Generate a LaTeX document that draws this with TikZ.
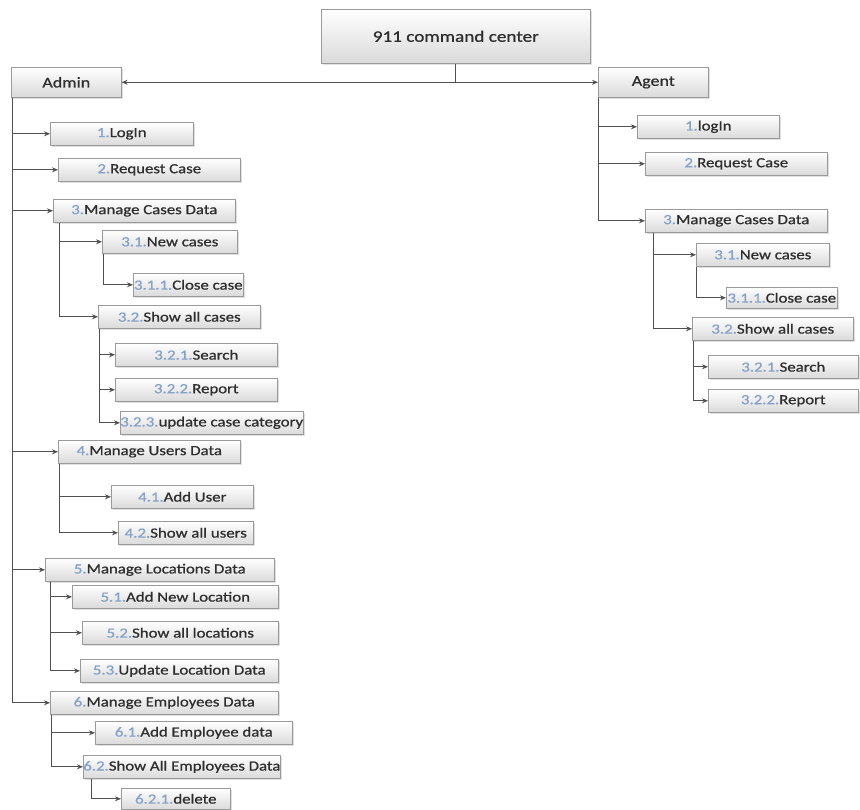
\documentclass[tikz,border=0pt]{standalone}
\usepackage{fontspec}
\setmainfont{Carlito}[FakeStretch=1.2, FakeBold=0.8]
\usepackage{tikz}
\usetikzlibrary{arrows.meta,shadows}
\definecolor{BoxLine}{HTML}{9A9A9A}
\definecolor{BoxShade}{HTML}{DADADA}
\definecolor{InkDark}{HTML}{2E2E2E}
\definecolor{NumBlue}{HTML}{86A2C8}
\definecolor{LinkGray}{HTML}{505050}
\newcommand{\idx}[1]{\textcolor{NumBlue}{#1}}

\begin{document}
\begin{tikzpicture}[x=1pt, y=-1pt,
  every node/.style={font=\fontsize{14}{16}\selectfont, text=InkDark},
  item/.style={draw=BoxLine, line width=0.6pt, top color=white, bottom color=BoxShade,
    drop shadow={opacity=0.25, shadow xshift=1.5pt, shadow yshift=-1.5pt},
    anchor=north west, minimum height=23pt, inner sep=0pt},
  link/.style={draw=LinkGray, line width=1pt, -{Stealth[length=6pt,width=5pt]}}]
  \useasboundingbox (0,0) rectangle (860,810);
  % Root and the two roles
  \node[item, minimum width=269pt, minimum height=54pt, font=\fontsize{16}{18}\selectfont]
    (title) at (321,9) {911 command center};
  \node[item, minimum width=110pt, minimum height=30pt, font=\fontsize{15}{17}\selectfont]
    (admin) at (11,67) {Admin};
  \node[item, minimum width=110pt, minimum height=30pt, font=\fontsize{15}{17}\selectfont]
    (agent) at (598,67) {Agent};
  \draw[link] (title.south) |- (admin.east);
  \draw[link] (title.south) |- (agent.west);

  % Admin menu
  \node[item, minimum width=143pt] (a1) at (50,122) {\idx{1.}LogIn};
  \node[item, minimum width=182pt] (a2) at (58,158) {\idx{2.}Request Case};
  \node[item, minimum width=182pt] (a3) at (53,199) {\idx{3.}Manage Cases Data};
  \node[item, minimum width=135pt] (a31) at (102,230) {\idx{3.1.}New cases};
  \node[item, minimum width=110pt] (a311) at (133,273) {\idx{3.1.1.}Close case};
  \node[item, minimum width=162pt] (a32) at (98,305) {\idx{3.2.}Show all cases};
  \node[item, minimum width=162pt] (a321) at (115,343) {\idx{3.2.1.}Search};
  \node[item, minimum width=162pt] (a322) at (115,378) {\idx{3.2.2.}Report};
  \node[item, minimum width=182pt] (a323) at (120,411) {\idx{3.2.3.}update case category};
  \node[item, minimum width=182pt] (a4) at (58,440) {\idx{4.}Manage Users Data};
  \node[item, minimum width=142pt] (a41) at (111,485) {\idx{4.1.}Add User};
  \node[item, minimum width=135pt] (a42) at (118,521) {\idx{4.2.}Show all users};
  \node[item, minimum width=229pt] (a5) at (45,558) {\idx{5.}Manage Locations Data};
  \node[item, minimum width=206pt] (a51) at (72,585) {\idx{5.1.}Add New Location};
  \node[item, minimum width=196pt] (a52) at (82,621) {\idx{5.2.}Show all locations};
  \node[item, minimum width=198pt] (a53) at (80,659) {\idx{5.3.}Update Location Data};
  \node[item, minimum width=228pt] (a6) at (50,691) {\idx{6.}Manage Employees Data};
  \node[item, minimum width=197pt] (a61) at (95,721) {\idx{6.1.}Add Employee data};
  \node[item, minimum width=197pt] (a62) at (83,755) {\idx{6.2.}Show All Employees Data};
  \node[item, minimum width=109pt, minimum height=21pt] (a621) at (121,788) {\idx{6.2.1.}delete};

  \foreach \n in {a1,a2,a3,a4,a5,a6}
    \draw[link] ([xshift=1pt]admin.south west) |- (\n.west);
  \foreach \n in {a31,a32}
    \draw[link] ([xshift=6pt]a3.south west) |- (\n.west);
  \draw[link] ([xshift=1pt]a31.south west) |- (a311.west);
  \foreach \n in {a321,a322,a323}
    \draw[link] ([xshift=1pt]a32.south west) |- (\n.west);
  \foreach \n in {a41,a42}
    \draw[link] ([xshift=1pt]a4.south west) |- (\n.west);
  \foreach \n in {a51,a52,a53}
    \draw[link] ([xshift=5pt]a5.south west) |- (\n.west);
  \foreach \n in {a61,a62}
    \draw[link] ([xshift=1pt]a6.south west) |- (\n.west);
  \draw[link] ([xshift=8pt]a62.south west) |- (a621.west);

  % Agent menu
  \node[item, minimum width=142pt] (g1) at (637,115) {\idx{1.}logIn};
  \node[item, minimum width=182pt] (g2) at (645,152) {\idx{2.}Request Case};
  \node[item, minimum width=182pt] (g3) at (645,209) {\idx{3.}Manage Cases Data};
  \node[item, minimum width=133pt] (g31) at (696,243) {\idx{3.1.}New cases};
  \node[item, minimum width=111pt, minimum height=21pt] (g311) at (726,287) {\idx{3.1.1.}Close case};
  \node[item, minimum width=161pt] (g32) at (692,317) {\idx{3.2.}Show all cases};
  \node[item, minimum width=150pt] (g321) at (708,355) {\idx{3.2.1.}Search};
  \node[item, minimum width=150pt] (g322) at (708,389) {\idx{3.2.2.}Report};

  \foreach \n in {g1,g2,g3}
    \draw[link] (agent.south west) |- (\n.west);
  \foreach \n in {g31,g32}
    \draw[link] ([xshift=8pt]g3.south west) |- (\n.west);
  \draw[link] (g31.south west) |- (g311.west);
  \foreach \n in {g321,g322}
    \draw[link] ([xshift=1pt]g32.south west) |- (\n.west);
\end{tikzpicture}
\end{document}
